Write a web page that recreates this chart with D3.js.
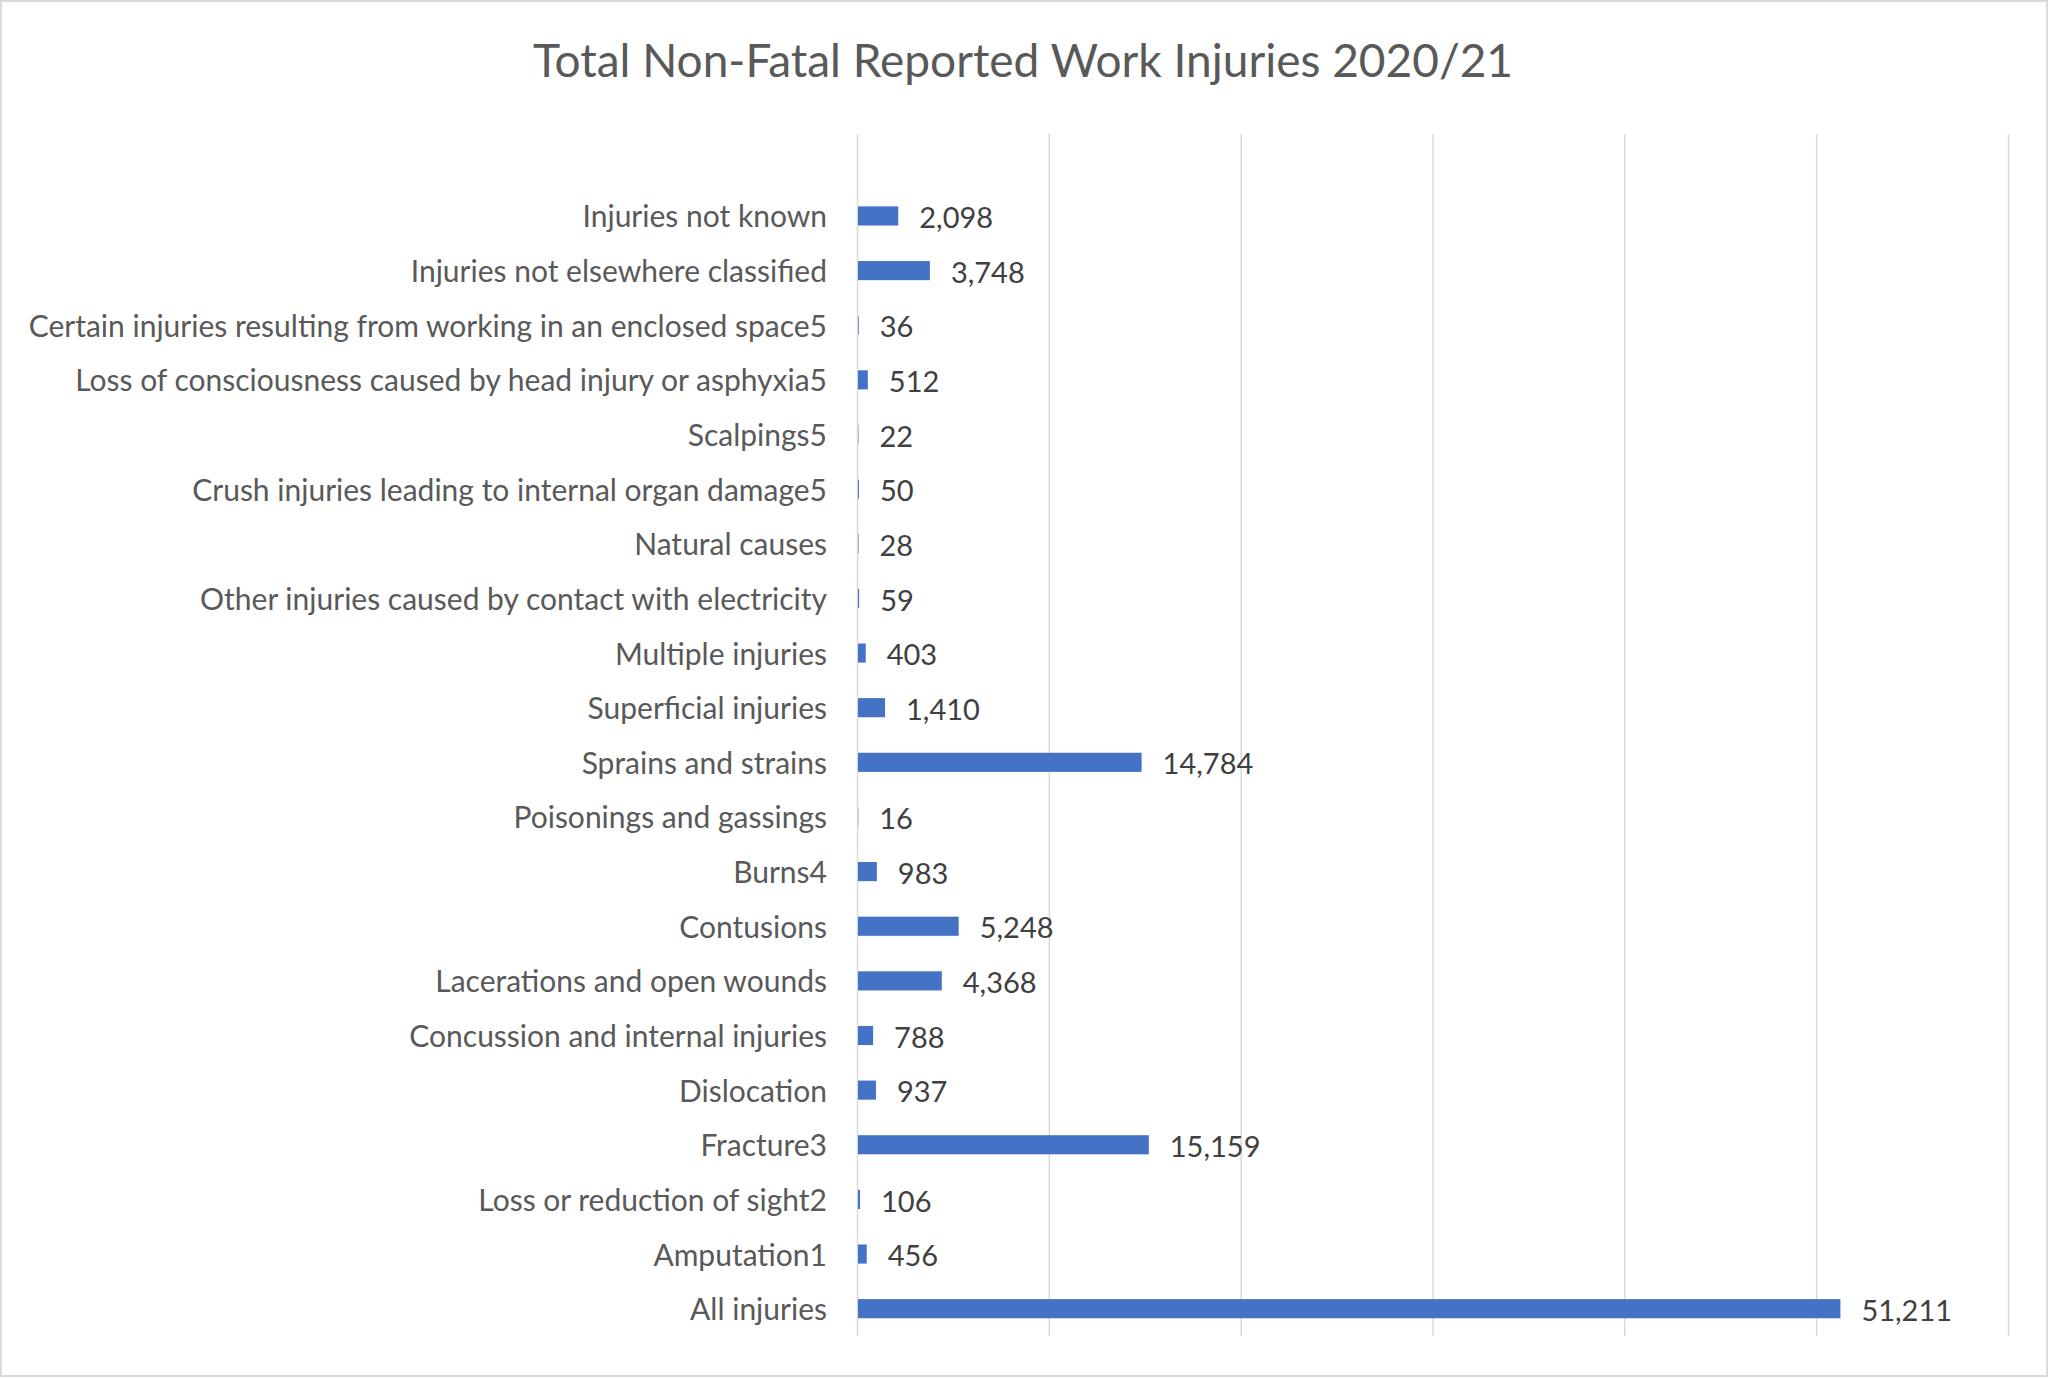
<!DOCTYPE html>
<html><head><meta charset="utf-8">
<script src="https://cdn.jsdelivr.net/npm/d3@7"></script>
<style>html,body{margin:0;padding:0;background:#fff;}</style>
</head><body>
<svg id="chart" width="2048" height="1378"></svg>
<script>
const categories = [
  "Injuries not known",
  "Injuries not elsewhere classified",
  "Certain injuries resulting from working in an enclosed space5",
  "Loss of consciousness caused by head injury or asphyxia5",
  "Scalpings5",
  "Crush injuries leading to internal organ damage5",
  "Natural causes",
  "Other injuries caused by contact with electricity",
  "Multiple injuries",
  "Superficial injuries",
  "Sprains and strains",
  "Poisonings and gassings",
  "Burns4",
  "Contusions",
  "Lacerations and open wounds",
  "Concussion and internal injuries",
  "Dislocation",
  "Fracture3",
  "Loss or reduction of sight2",
  "Amputation1",
  "All injuries"
];
const values = [2098, 3748, 36, 512, 22, 50, 28, 59, 403, 1410, 14784, 16, 983, 5248, 4368, 788, 937, 15159, 106, 456, 51211];
const xTicks = [0, 10000, 20000, 30000, 40000, 50000, 60000];
const title = "Total Non-Fatal Reported Work Injuries 2020/21";

const svg = d3.select("#chart");
const font = "Lato, 'Open Sans', sans-serif";

svg.append("rect").attr("x", 1).attr("y", 1).attr("width", 2046).attr("height", 1375)
  .attr("fill", "#fff").attr("stroke", "#d9d9d9").attr("stroke-width", 2);

const plotTop = 134, plotBottom = 1336, x0 = 857, x1 = 2008;
const step = (plotBottom - plotTop) / (categories.length + 1);

const x = d3.scaleLinear().domain([0, 60000]).range([x0, x1]);
const y = d3.scaleBand().domain(categories).range([plotTop + step, plotBottom]).paddingInner(0.65).paddingOuter(0.325);

svg.append("text").attr("x", 1023).attr("y", 77).attr("text-anchor", "middle")
  .attr("font-family", font).attr("font-size", 46).attr("fill", "#595959").text(title);

const grid = svg.append("g").attr("transform", `translate(0,${plotTop})`)
  .call(d3.axisBottom(x).tickValues(xTicks).tickSize(plotBottom - plotTop).tickFormat(""));
grid.select(".domain").remove();
grid.selectAll("line").attr("stroke", "#d9d9d9").attr("stroke-width", 1.5);

svg.append("g").selectAll("rect").data(values).join("rect")
  .attr("x", x(0) + 1)
  .attr("y", (d, i) => y(categories[i]))
  .attr("width", d => Math.max(0, x(d) - x(0)))
  .attr("height", y.bandwidth())
  .attr("fill", "#4472C4");

svg.append("g").selectAll("text").data(categories).join("text")
  .attr("x", x0 - 30)
  .attr("y", d => y(d) + y.bandwidth() / 2 + 1)
  .attr("dy", "0.35em")
  .attr("text-anchor", "end")
  .attr("font-family", font).attr("font-size", 30).attr("fill", "#595959")
  .text(d => d);

const fmt = d3.format(",");
svg.append("g").selectAll("text").data(values).join("text")
  .attr("x", d => x(d) + 22)
  .attr("y", (d, i) => y(categories[i]) + y.bandwidth() / 2 + 2)
  .attr("dy", "0.35em")
  .attr("font-family", font).attr("font-size", 29).attr("fill", "#404040")
  .text(d => fmt(d));
</script>
</body></html>
